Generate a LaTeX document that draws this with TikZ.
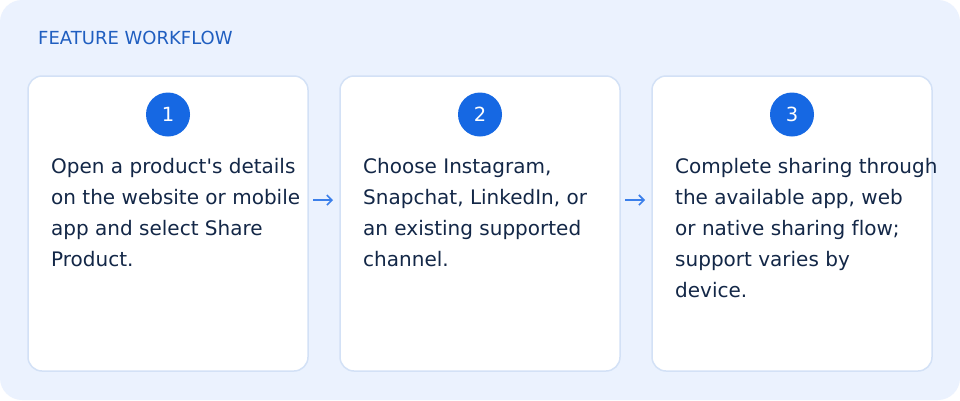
\documentclass[tikz,border=0pt]{standalone}
\usepackage{fontspec}
\setmainfont{DejaVu Sans}[Ligatures={TeXOff,NoCommon}]
\usetikzlibrary{arrows.meta}
\definecolor{bgblue}{HTML}{EBF2FE}
\definecolor{cardborder}{HTML}{D3E1F6}
\definecolor{titleblue}{HTML}{1F5EC0}
\definecolor{badgeblue}{HTML}{1668E3}
\definecolor{textnavy}{HTML}{132747}
\definecolor{arrowblue}{HTML}{3B7FEA}
\tikzset{
  card/.style={draw=cardborder, line width=1.5pt, fill=white, rounded corners=14pt,
    minimum width=280pt, minimum height=295pt, inner sep=0pt},
  badge/.style={circle, fill=badgeblue, minimum size=44pt, inner sep=0pt,
    text=white, font=\fontsize{19.5pt}{20pt}\selectfont},
  body/.style={anchor=base west, inner sep=0pt, text=textnavy,
    font=\fontsize{20pt}{31pt}\selectfont},
  flow/.style={draw=arrowblue, line width=1.6pt, -{Straight Barb[length=5pt,width=10pt,line width=1.6pt]}},
  title/.style={anchor=base west, inner sep=0pt, text=titleblue,
    font=\fontsize{18pt}{20pt}\selectfont}
}
\newcommand{\cardtext}[1]{\parbox[t]{300pt}{\fontsize{20pt}{31pt}\selectfont\raggedright #1}}
\begin{document}
\begin{tikzpicture}[x=1pt,y=-1pt]
\fill[white] (0,0) rectangle (960,400);
\useasboundingbox (0,0) rectangle (960,400);
\fill[bgblue, rounded corners=22pt] (0,0) rectangle (960,400);
\node[title] (t) at (38,44) {FEATURE WORKFLOW};
\node[card] (c1) at (168,223.5) {};
\node[card] (c2) at (480,223.5) {};
\node[card] (c3) at (792,223.5) {};
\node[badge] (b1) at (168,114.5) {1};
\node[badge] (b2) at (480,114.5) {2};
\node[badge] (b3) at (792,114.5) {3};
\node[body] (x1) at (51,173) {\cardtext{Open a product's details\\on the website or mobile\\app and select Share\\Product.}};
\node[body] (x2) at (363,173) {\cardtext{Choose Instagram,\\Snapchat, LinkedIn, or\\an existing supported\\channel.}};
\node[body] (x3) at (675,173) {\cardtext{Complete sharing through\\the available app, web\\or native sharing flow;\\support varies by\\device.}};
\coordinate (a1s) at (313,200);
\coordinate (a1e) at (333,200);
\coordinate (a2s) at (625,200);
\coordinate (a2e) at (645,200);
\draw[flow] (a1s) -- (a1e);
\draw[flow] (a2s) -- (a2e);
\end{tikzpicture}
\end{document}
